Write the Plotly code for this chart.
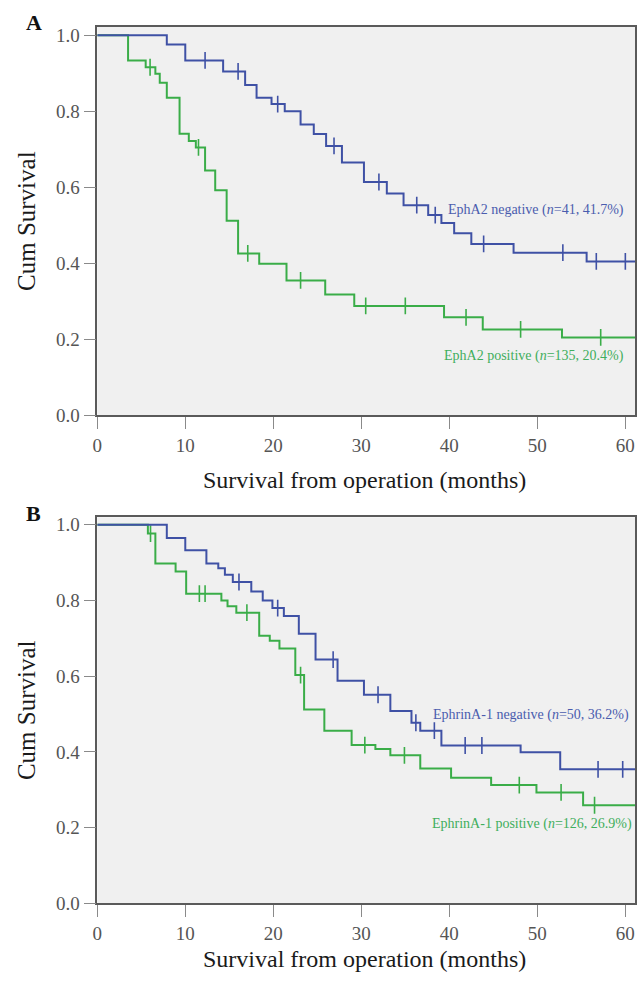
import plotly.graph_objects as go

# ---------------- data ----------------
months_ticks = [0, 10, 20, 30, 40, 50, 60]
surv_ticks = [0.0, 0.2, 0.4, 0.6, 0.8, 1.0]

# Panel A: EphA2
a_neg_t = [0, 7.9, 10.0, 14.3, 16.8, 18.1, 19.8, 21.3, 23.1, 24.6, 26.0, 27.8, 30.3, 32.9, 34.8, 37.6, 39.1, 40.55, 42.5, 47.3, 55.6]
a_neg_s = [1.0, 0.976, 0.934, 0.905, 0.869, 0.836, 0.819, 0.800, 0.765, 0.740, 0.709, 0.665, 0.614, 0.584, 0.553, 0.527, 0.506, 0.479, 0.451, 0.428, 0.405]
a_neg_cens = [12.25, 16.0, 20.5, 26.9, 32.0, 36.3, 38.4, 43.9, 52.9, 56.7, 60.0]

a_pos_t = [0, 3.5, 5.5, 6.6, 7.1, 7.9, 9.35, 10.4, 11.2, 12.25, 13.4, 14.7, 16.0, 18.4, 21.5, 25.9, 29.2, 39.4, 43.8, 52.8]
a_pos_s = [1.0, 0.934, 0.916, 0.899, 0.875, 0.836, 0.741, 0.722, 0.705, 0.644, 0.592, 0.512, 0.426, 0.399, 0.355, 0.318, 0.288, 0.258, 0.226, 0.205]
a_pos_cens = [6.0, 11.5, 17.1, 23.1, 30.5, 35.0, 41.9, 48.1, 57.2]

# Panel B: EphrinA-1
b_neg_t = [0, 7.9, 10.0, 12.4, 13.75, 14.5, 15.4, 17.5, 18.8, 19.9, 21.2, 22.9, 24.8, 27.3, 30.3, 33.3, 35.7, 36.7, 39.1, 48.1, 52.6]
b_neg_s = [1.0, 0.965, 0.933, 0.898, 0.885, 0.868, 0.849, 0.824, 0.800, 0.780, 0.759, 0.712, 0.644, 0.588, 0.551, 0.508, 0.477, 0.456, 0.417, 0.399, 0.354]
b_neg_cens = [16.1, 20.5, 26.8, 31.9, 36.2, 38.3, 41.8, 43.7, 56.9, 59.7]

b_pos_t = [0, 5.75, 6.6, 8.9, 10.1, 14.1, 14.8, 15.8, 18.4, 19.6, 20.7, 22.5, 23.5, 25.8, 28.9, 31.6, 33.3, 36.7, 40.2, 44.75, 49.9, 55.2]
b_pos_s = [1.0, 0.977, 0.898, 0.877, 0.818, 0.800, 0.785, 0.768, 0.707, 0.694, 0.673, 0.603, 0.512, 0.456, 0.418, 0.408, 0.391, 0.356, 0.332, 0.3125, 0.293, 0.259]
b_pos_cens = [6.05, 11.6, 12.25, 17.0, 23.1, 30.4, 34.9, 47.95, 52.7, 56.5]

x_end = 61.1

BLUE = "#3f51a5"
GREEN = "#3aad48"
FONT = "Liberation Serif"

W, H = 638, 983


def step_value(ts, ss, t):
    v = ss[0]
    for ti, si in zip(ts, ss):
        if ti <= t:
            v = si
    return v


fig = go.Figure()


def add_curve(ts, ss, cens, color, xa, ya):
    xs = list(ts) + [x_end]
    ys = list(ss) + [ss[-1]]
    fig.add_trace(go.Scatter(x=xs, y=ys, mode="lines", line=dict(color=color, width=2, shape="hv"),
                             xaxis=xa, yaxis=ya, showlegend=False, hoverinfo="skip"))
    fig.add_trace(go.Scatter(x=cens, y=[step_value(ts, ss, c) for c in cens], mode="markers",
                             marker=dict(symbol="line-ns-open", size=12, color=color,
                                         line=dict(color=color, width=1.6)),
                             xaxis=xa, yaxis=ya, showlegend=False, hoverinfo="skip"))


add_curve(a_pos_t, a_pos_s, a_pos_cens, GREEN, "x", "y")
add_curve(a_neg_t, a_neg_s, a_neg_cens, BLUE, "x", "y")
add_curve(b_pos_t, b_pos_s, b_pos_cens, GREEN, "x2", "y2")
add_curve(b_neg_t, b_neg_s, b_neg_cens, BLUE, "x2", "y2")


def px_x(p):
    return p / W


def px_y(p):
    return 1 - p / H


xdom = [px_x(93), px_x(635)]
ydomA = [px_y(418.3), px_y(24.3)]
ydomB = [px_y(913.3), px_y(521.7)]

axis_common = dict(showline=True, linecolor="#5a5a5a", linewidth=1.5, mirror=True, showgrid=False,
                   zeroline=False, ticks="outside", ticklen=12, tickcolor="#8a8a8a", tickwidth=1.2,
                   tickfont=dict(family=FONT, size=19, color="#555555"))

fig.update_layout(
    width=W, height=H,
    margin=dict(l=0, r=0, t=0, b=0),
    paper_bgcolor="white",
    plot_bgcolor="#f0f0f0",
    xaxis=dict(domain=xdom, range=[0, x_end], tickvals=months_ticks, anchor="y", **axis_common),
    yaxis=dict(domain=ydomA, range=[0, 1.022], tickvals=surv_ticks, tickformat=".1f", anchor="x", **axis_common),
    xaxis2=dict(domain=xdom, range=[0, x_end], tickvals=months_ticks, anchor="y2", **axis_common),
    yaxis2=dict(domain=ydomB, range=[0, 1.02], tickvals=surv_ticks, tickformat=".1f", anchor="x2", **axis_common),
)

ann = []
title_font = dict(family=FONT, size=24, color="#1a1a1a")
for (yc, xt_y) in [((24.3 + 418.3) / 2, 484), ((521.7 + 913.3) / 2, 970)]:
    ann.append(dict(text="Cum Survival", x=px_x(21), y=px_y(yc), xref="paper", yref="paper",
                    textangle=-90, showarrow=False, font=dict(family=FONT, size=25, color="#1a1a1a"),
                    xanchor="center", yanchor="middle"))
    ann.append(dict(text="Survival from operation (months)", x=px_x(362), y=px_y(xt_y), xref="paper",
                    yref="paper", showarrow=False, font=title_font, xanchor="center", yanchor="middle"))

ann.append(dict(text="<b>A</b>", x=px_x(29), y=px_y(20), xref="paper", yref="paper", showarrow=False,
                font=dict(family=FONT, size=22, color="#111"), xanchor="center", yanchor="middle"))
ann.append(dict(text="<b>B</b>", x=px_x(29), y=px_y(518), xref="paper", yref="paper", showarrow=False,
                font=dict(family=FONT, size=22, color="#111"), xanchor="center", yanchor="middle"))

lab_font = 14
ann.append(dict(text="EphA2 negative (<i>n</i>=41, 41.7%)", x=px_x(626), y=px_y(210), xref="paper",
                yref="paper", showarrow=False, font=dict(family=FONT, size=lab_font, color="#4a5cae"),
                xanchor="right", yanchor="middle"))
ann.append(dict(text="EphA2 positive (<i>n</i>=135, 20.4%)", x=px_x(626), y=px_y(358), xref="paper",
                yref="paper", showarrow=False, font=dict(family=FONT, size=lab_font, color="#3fae5c"),
                xanchor="right", yanchor="middle"))
ann.append(dict(text="EphrinA-1 negative (<i>n</i>=50, 36.2%)", x=px_x(631), y=px_y(722), xref="paper",
                yref="paper", showarrow=False, font=dict(family=FONT, size=lab_font, color="#4a5cae"),
                xanchor="right", yanchor="middle"))
ann.append(dict(text="EphrinA-1 positive (<i>n</i>=126, 26.9%)", x=px_x(634), y=px_y(833), xref="paper",
                yref="paper", showarrow=False, font=dict(family=FONT, size=lab_font, color="#3fae5c"),
                xanchor="right", yanchor="middle"))

fig.update_layout(annotations=ann)

post = (
    "document.documentElement.style.margin='0px';"
    "document.documentElement.style.padding='0px';"
    "document.body.style.margin='0px';document.body.style.padding='0px';"
    "document.body.style.overflow='hidden';document.documentElement.style.overflow='hidden';"
    "var d=document.querySelector('.plotly-graph-div');"
    "d.style.position='fixed';d.style.top='0px';d.style.left='0px';"
)

fig.write_html("out.html", config={"displayModeBar": False}, post_script=post)
